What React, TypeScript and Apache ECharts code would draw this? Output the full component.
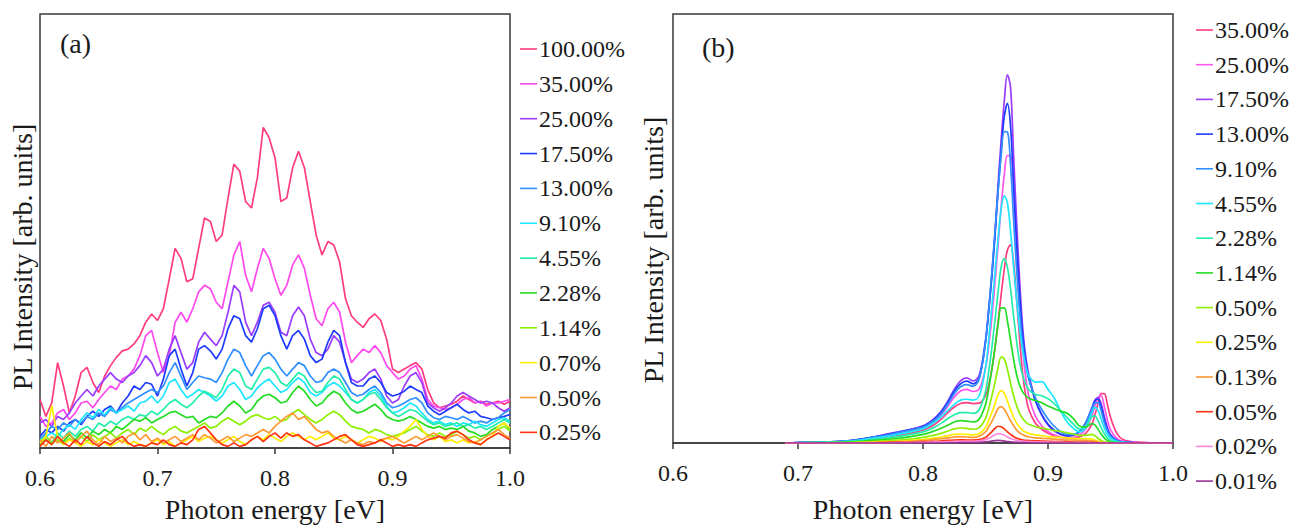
import React, { useEffect, useRef } from 'react';
import * as echarts from 'echarts';

// ---------- Panel (a) data ----------
const energyA = [
  0.6, 0.605, 0.61, 0.615, 0.62, 0.625, 0.63, 0.635, 0.64, 0.645,
  0.65, 0.655, 0.66, 0.665, 0.67, 0.675, 0.68, 0.685, 0.69, 0.695,
  0.7, 0.705, 0.71, 0.715, 0.72, 0.725, 0.73, 0.735, 0.74, 0.745,
  0.75, 0.755, 0.76, 0.765, 0.77, 0.775, 0.78, 0.785, 0.79, 0.795,
  0.8, 0.805, 0.81, 0.815, 0.82, 0.825, 0.83, 0.835, 0.84, 0.845,
  0.85, 0.855, 0.86, 0.865, 0.87, 0.875, 0.88, 0.885, 0.89, 0.895,
  0.9, 0.905, 0.91, 0.915, 0.92, 0.925, 0.93, 0.935, 0.94, 0.945,
  0.95, 0.955, 0.96, 0.965, 0.97, 0.975, 0.98, 0.985, 0.99, 0.995,
  1.0,
];
const labelsA = ['100.00%', '35.00%', '25.00%', '17.50%', '13.00%', '9.10%', '4.55%', '2.28%', '1.14%', '0.70%', '0.50%', '0.25%'];

const A_100 = [11.2,7.3,10.4,19.7,14.3,8.1,12.0,17.4,18.6,15.1, 12.8,16.6,19.0,20.9,22.4,22.8,24.0,25.9,29.0,30.9, 29.4,32.1,39.0,46.0,43.7,38.3,39.0,46.0,53.0,52.2, 47.6,49.1,57.6,65.4,63.8,56.8,55.3,62.3,73.9,71.5, 66.9,56.8,57.6,64.6,68.4,64.6,56.8,49.1,44.5,47.6, 46.8,42.9,34.4,30.5,29.0,27.8,29.8,30.9,29.4,25.1, 18.2,17.4,18.2,19.0,19.7,18.2,13.5,10.4,9.3,9.7, 10.1,10.8,12.0,11.2,10.4,10.8,10.1,10.4,10.8,10.1, 10.8];
const A_35 = [7.3,5.0,5.8,8.1,8.9,6.6,8.1,10.4,10.8,9.3, 11.2,12.8,14.3,13.5,15.9,16.6,18.2,21.3,25.9,27.1, 22.0,17.4,21.3,29.0,31.3,29.0,32.1,36.0,37.5,36.7, 33.6,32.1,38.3,44.5,47.6,39.8,36.0,41.4,46.0,43.7, 39.0,35.2,37.5,42.2,44.5,41.4,35.2,29.8,28.2,32.1, 33.6,31.3,24.4,19.7,21.3,22.8,22.0,23.6,22.0,19.0, 17.4,15.9,16.6,18.2,19.0,15.9,11.2,9.7,9.3,8.9, 9.3,10.1,11.2,11.6,10.4,10.8,9.7,10.4,10.4,10.8, 11.2];
const A_25 = [5.8,6.6,5.0,7.3,6.6,8.1,10.4,12.0,13.5,12.0, 14.3,15.9,17.4,15.9,15.1,16.6,17.4,19.0,21.3,19.7, 16.6,18.2,22.8,25.9,22.0,18.2,19.7,24.4,26.7,25.1, 23.6,25.9,31.3,37.5,36.0,29.0,25.9,29.0,32.9,33.6, 31.3,26.7,25.9,30.5,32.5,30.5,25.1,22.0,21.3,22.8, 25.9,24.4,19.7,15.9,15.1,15.9,17.4,18.2,15.9,12.0, 10.4,11.2,14.3,16.6,17.4,15.1,10.4,9.3,8.5,9.3, 10.4,12.0,12.8,12.0,11.2,10.4,10.8,10.4,9.3,8.5, 9.3];
const A_175 = [2.7,4.3,3.5,5.0,3.9,5.8,6.6,5.4,7.3,8.5, 7.3,8.9,9.7,8.1,10.4,12.0,14.3,13.5,15.1,14.7, 12.0,15.9,21.3,22.8,18.2,14.3,17.4,22.8,23.6,22.4, 20.5,22.8,27.5,30.5,29.8,25.9,24.4,27.5,32.1,32.9, 30.5,25.9,22.8,25.9,27.1,25.1,21.3,19.7,20.5,24.4, 27.1,25.9,19.7,15.1,14.3,14.3,15.9,16.6,15.1,12.8, 12.0,12.4,13.1,14.3,13.5,12.8,9.7,8.5,7.7,8.5, 9.3,10.1,8.9,8.1,8.5,7.3,7.0,6.6,7.0,7.3, 7.7];
const A_13 = [1.9,3.5,5.0,4.3,5.8,5.0,6.6,5.8,7.3,6.6, 8.1,7.3,8.9,8.1,9.3,10.4,11.2,12.0,12.8,13.5, 12.8,14.3,17.4,19.7,16.6,13.5,15.1,16.6,16.2,15.9, 15.1,17.4,20.5,22.8,22.0,19.0,16.6,19.0,21.3,22.0, 20.5,18.2,16.6,18.2,19.7,19.0,16.6,15.1,15.5,17.4, 18.2,17.4,15.1,12.8,12.0,12.4,13.5,14.3,12.8,10.4, 9.3,9.7,10.4,11.2,11.6,10.4,8.1,7.0,6.6,7.3, 7.0,6.6,7.3,6.6,5.8,6.2,5.8,6.6,7.0,8.1, 8.9];
const A_91 = [1.2,2.7,3.5,2.7,4.3,5.4,4.3,6.6,8.1,7.0, 8.9,7.7,9.3,8.1,8.9,9.7,8.5,10.4,10.8,12.0, 10.4,12.0,15.1,15.9,13.5,11.6,12.4,13.5,12.8,12.0, 10.8,12.0,14.3,15.1,13.5,11.2,12.0,13.9,15.1,15.9, 14.3,12.8,13.5,15.1,16.2,15.1,12.8,12.0,12.8,14.3, 15.1,14.3,12.8,11.2,10.4,11.2,12.8,13.5,12.0,9.7, 8.1,8.5,9.3,10.4,9.7,8.1,6.6,5.8,6.2,5.4, 5.8,5.0,5.8,5.4,6.2,5.4,5.0,5.8,6.6,7.0, 6.2];
const A_455 = [1.9,2.7,1.2,3.5,2.3,3.9,2.7,4.3,5.0,3.9, 5.8,5.0,6.2,5.4,6.6,7.3,6.6,7.7,7.3,8.5, 7.7,8.9,10.4,11.2,10.1,9.3,10.4,12.0,13.1,12.4, 11.6,13.5,16.6,18.2,17.4,14.3,13.5,15.9,18.2,18.6, 17.4,15.1,14.3,15.9,17.4,16.6,14.3,12.8,13.1,15.1, 16.6,15.9,13.5,11.2,10.4,11.2,12.4,12.8,11.2,9.3, 8.1,7.3,8.1,8.9,8.5,7.3,6.2,5.4,5.8,5.0, 5.4,5.8,5.0,5.4,4.6,5.0,4.3,5.0,5.8,6.6, 5.8];
const A_228 = [1.2,1.9,0.8,2.7,1.5,3.1,1.9,3.5,2.3,3.9, 3.1,4.3,3.5,5.0,4.3,5.4,6.6,6.2,7.0,5.8, 6.6,7.3,8.1,8.5,7.7,7.0,7.3,5.8,6.6,7.3, 7.0,8.1,9.7,10.8,9.7,8.1,8.9,10.8,12.0,12.4, 11.6,10.4,10.8,12.8,14.3,13.1,11.2,9.7,10.4,12.0, 13.1,12.4,10.4,8.9,8.1,8.5,9.3,10.1,8.9,7.3, 6.6,6.2,6.6,7.3,6.6,5.8,5.0,4.6,5.0,4.3, 4.6,4.3,5.0,3.9,3.5,2.7,3.1,4.3,5.0,5.8, 4.3];
const A_114 = [0.4,2.7,1.2,1.9,0.8,2.3,1.2,2.7,1.5,3.1, 1.9,2.7,3.5,2.3,3.5,4.3,3.1,4.6,3.9,5.0, 3.9,3.1,4.3,5.0,3.9,3.5,4.3,5.0,5.8,4.6, 5.0,6.2,7.0,6.2,5.4,6.2,7.3,7.7,7.0,6.6, 7.3,6.2,6.6,8.1,8.9,7.7,6.6,5.8,6.6,7.7, 8.5,7.7,6.2,5.0,4.6,4.3,3.5,4.3,3.9,3.1, 2.7,3.1,3.5,4.3,5.0,3.9,3.1,2.7,3.5,2.7, 3.1,3.9,3.1,2.3,2.7,1.9,2.7,3.5,4.3,5.0, 3.9];
const A_070 = [1.2,2.7,9.7,2.7,0.8,1.9,1.2,0.4,1.5,0.8, 1.9,1.2,0.4,1.2,1.9,0.8,1.5,0.8,0.4,1.2, 1.9,0.8,1.5,0.4,1.2,1.9,2.7,1.5,2.3,2.7, 1.9,1.2,1.9,2.7,1.5,0.8,1.9,2.7,1.9,3.1, 2.3,1.5,2.7,3.5,2.7,1.9,2.7,1.9,2.7,3.5, 2.3,1.9,2.7,1.9,1.2,1.9,2.7,2.3,1.5,2.3, 1.9,2.7,3.9,5.0,6.6,4.3,2.7,1.9,2.7,1.5, 1.9,1.2,1.9,1.2,1.5,0.8,1.9,2.7,5.0,5.8, 4.6];
const A_050 = [1.9,0.4,2.7,1.2,2.3,3.5,1.2,2.7,3.9,1.9, 0.8,2.7,1.5,2.3,1.2,2.7,3.5,1.9,3.1,1.5, 2.3,1.2,1.9,2.7,1.5,2.3,3.1,1.9,3.1,2.3, 1.2,1.9,2.7,1.5,2.3,3.1,2.7,3.5,4.3,3.5, 5.0,6.2,7.3,8.1,6.6,7.3,5.8,4.3,3.5,3.9, 2.7,1.9,1.2,1.9,1.2,0.8,1.5,1.2,1.9,2.3, 2.7,1.9,1.2,1.9,2.7,1.9,2.7,3.5,2.7,1.9, 2.7,3.1,2.3,1.5,1.2,1.9,2.7,3.5,4.3,3.1, 2.3];
const A_025 = [0.4,1.9,0.8,2.7,1.2,0.4,1.9,0.8,2.7,1.2, 0.4,1.5,0.8,1.9,2.7,1.2,0.4,0.8,0.4,1.2, 0.8,1.9,0.8,0.4,1.2,0.8,1.9,4.3,5.0,3.5, 1.9,0.8,0.4,1.2,0.4,0.8,1.9,2.7,1.5,2.7, 3.5,2.3,3.5,2.7,3.1,1.9,1.2,0.4,0.8,1.2, 1.9,2.7,3.1,1.9,0.8,0.4,0.8,1.2,1.9,1.2, 0.4,0.8,0.4,0.8,0.4,1.2,1.9,2.3,2.7,2.3, 3.5,3.9,3.1,1.9,1.2,0.8,1.9,2.7,3.5,2.7, 1.9];
const valuesA = [A_100, A_35, A_25, A_175, A_13, A_91, A_455, A_228, A_114, A_070, A_050, A_025];

// ---------- Panel (b) data ----------
const energyB = [
  0.69, 0.7, 0.72, 0.74, 0.75, 0.76, 0.77, 0.78, 0.79, 0.8,
  0.805, 0.81, 0.815, 0.82, 0.825, 0.83, 0.835, 0.84, 0.845, 0.85,
  0.8525, 0.855, 0.8575, 0.86, 0.8625, 0.865, 0.8675, 0.87, 0.8725, 0.875,
  0.8775, 0.88, 0.8825, 0.885, 0.89, 0.895, 0.9, 0.905, 0.91, 0.915,
  0.92, 0.925, 0.93, 0.935, 0.9375, 0.94, 0.9425, 0.945, 0.9475, 0.95,
  0.955, 0.96, 0.97, 1.0,
];
const labelsB = ['35.00%', '25.00%', '17.50%', '13.00%', '9.10%', '4.55%', '2.28%', '1.14%', '0.50%', '0.25%', '0.13%', '0.05%', '0.02%', '0.01%'];

const B_3500 = [0,0.1,0.2,0.3,0.6, 0.9,1.3,1.8,2.3,3.0, 3.6,4.5,5.7,7.1,8.4, 9.2,9.4,9.2,9.3,11, 13.5,17,22,28,34.5, 40.5,45,46.2,42,33, 23.5,15.5,10.5,7.5,4.6, 3.2,2.3,1.7,1.3,1.1, 1.1,1.4,2.2,4.3,6.5, 9.2,11.5,11.5,9.0,6.0, 2.3,0.8,0.2,0];
const B_2500 = [0,0.1,0.2,0.4,0.8, 1.2,1.7,2.3,2.9,3.6, 4.3,5.3,6.7,8.6,10.7, 12.1,12.5,12.0,12.6,17.5, 22.5,29,37,46,55, 62.5,67,67,58,44, 31,21,14.5,10.5,6.2, 4.0,2.7,1.9,1.4,1.2, 1.3,1.8,3.2,6.2,8.6, 10.6,11.0,8.6,5.4,3.1, 1.1,0.4,0.1,0];
const B_1750 = [0,0.1,0.2,0.5,0.9, 1.4,2.0,2.6,3.2,4.0, 4.8,6.0,7.6,9.8,12.5, 14.5,15.2,14.5,15.8,24, 31,39,48.5,60,70.5, 79.6,85.8,83,67,51, 37,26,19.5,15.5,10, 6.5,4.2,2.8,2.0,1.6, 1.8,2.5,4.5,8.0,10.0, 10.6,9.2,6.2,3.6,2.0, 0.7,0.3,0.1,0];
const B_1300 = [0,0.1,0.2,0.5,0.9, 1.4,1.9,2.5,3.1,3.9, 4.7,5.8,7.4,9.6,12.1, 13.8,14.4,13.8,15.2,23.5, 30.5,38.5,48,58.5,68, 76,79.2,74,60,46, 34,24.5,18.5,14.8,9.8, 6.6,4.4,3.0,2.1,1.7, 1.9,2.6,4.6,8.0,9.8, 10.2,8.6,5.6,3.2,1.8, 0.6,0.2,0.05,0];
const B_910 = [0,0.1,0.2,0.5,0.8, 1.3,1.8,2.4,3.0,3.7, 4.5,5.5,7.0,9.1,11.5, 13.1,13.6,13.2,15.0,23.5, 31,39.5,49,58.5,67, 72.6,72.5,65,52,40, 30,22.5,17.5,14.5,10.5, 7.8,5.6,3.9,2.7,2.0, 2.0,2.7,4.6,7.8,9.3, 9.4,7.5,4.8,2.8,1.6, 0.5,0.2,0.05,0];
const B_455 = [0,0.1,0.2,0.4,0.7, 1.1,1.5,2.0,2.6,3.3, 4.0,5.0,6.2,7.6,9.0, 10.0,10.2,10.0,11.0,17.5, 24,31.5,39.5,47.5,54.5, 57.6,56,49.5,41,33, 26,21,17.5,15.5,14.2, 14.3,12.5,10.5,7.5,5.0, 3.5,2.6,3.5,7.0,8.3, 7.6,5.6,3.5,2.0,1.1, 0.4,0.15,0,0];
const B_228 = [0,0.05,0.1,0.3,0.5, 0.8,1.1,1.5,2.0,2.6, 3.1,3.8,4.7,5.7,6.6, 7.1,7.1,6.9,7.8,12, 16.5,22,28.5,35,41, 43,41,36,29.5,23.5, 18.5,15.5,13.5,12.3,11.3, 11.0,10.3,9.2,7.6,6.0, 4.5,3.3,3.8,6.1,6.3, 5.2,3.6,2.2,1.2,0.6, 0.2,0.1,0,0];
const B_114 = [0,0.05,0.1,0.2,0.4, 0.6,0.8,1.1,1.5,2.0, 2.4,2.9,3.5,4.2,4.9, 5.2,5.1,4.9,5.6,9, 12.5,17,22,27.5,31.5, 31.5,28.5,24,19.5,15.8, 13.3,11.8,10.9,10.4,9.9, 9.4,8.6,8.0,7.4,7.0, 5.8,4.0,3.7,4.5,4.2, 3.2,2.1,1.2,0.6,0.3, 0.1,0,0,0];
const B_050 = [0,0,0.05,0.1,0.2, 0.3,0.5,0.7,0.9,1.3, 1.6,1.9,2.3,2.8,3.3, 3.5,3.4,3.2,3.6,5.7, 8,10.8,14,17.5,20, 19.6,17.2,14,11,8.6, 6.8,5.6,4.8,4.3,3.8, 3.5,3.2,2.9,2.7,2.4, 2.1,1.8,1.8,2.0,1.7, 1.1,0.6,0.3,0.15,0.1, 0,0,0,0];
const B_025 = [0,0,0,0.05,0.1, 0.2,0.3,0.4,0.6,0.8, 1.0,1.2,1.4,1.7,2.0, 2.1,2.0,1.9,2.2,3.6, 5.2,7.0,9.0,11.2,12.2, 11.6,9.8,7.8,6.0,4.6, 3.6,2.9,2.5,2.2,1.9, 1.7,1.5,1.4,1.3,1.2, 1.1,1.0,1.0,0.9,0.7, 0.4,0.2,0.1,0.05,0, 0,0,0,0];
const B_013 = [0,0,0,0,0.05, 0.1,0.2,0.3,0.4,0.6, 0.7,0.9,1.0,1.2,1.4, 1.5,1.4,1.3,1.6,2.6, 3.7,5.0,6.5,8.0,8.5, 7.9,6.6,5.2,4.0,3.0, 2.3,1.9,1.6,1.4,1.2, 1.1,1.0,0.9,0.8,0.7, 0.7,0.6,0.6,0.5,0.4, 0.2,0.1,0.05,0,0, 0,0,0,0];
const B_005 = [0,0,0,0,0, 0.05,0.1,0.15,0.2,0.3, 0.35,0.4,0.5,0.6,0.7, 0.75,0.7,0.7,0.8,1.3, 1.9,2.6,3.4,3.9,3.8, 3.3,2.6,2.0,1.5,1.1, 0.9,0.7,0.6,0.55,0.5, 0.45,0.4,0.35,0.3,0.3, 0.25,0.2,0.2,0.15,0.1, 0.05,0,0,0,0, 0,0,0,0];
const B_002 = [0,0,0,0,0, 0,0,0.05,0.1,0.15, 0.2,0.2,0.25,0.3,0.35, 0.4,0.4,0.4,0.5,0.8, 1.1,1.5,1.9,2.2,2.1, 1.8,1.4,1.1,0.8,0.6, 0.5,0.4,0.35,0.3,0.25, 0.2,0.2,0.15,0.15,0.1, 0.1,0.1,0.05,0,0, 0,0,0,0,0, 0,0,0,0];
const B_001 = [0,0,0,0,0, 0,0,0,0,0, 0,0,0,0,0, 0.1,0.1,0.1,0.15,0.25, 0.35,0.45,0.55,0.6,0.55, 0.45,0.35,0.25,0.2,0.15, 0.1,0.1,0.05,0,0, 0,0,0,0,0, 0,0,0,0,0, 0,0,0,0,0, 0,0,0,0];
const valuesB = [B_3500, B_2500, B_1750, B_1300, B_910, B_455, B_228, B_114, B_050, B_025, B_013, B_005, B_002, B_001];

// ---------- styles ----------
const colorsA = ['#ff3c82', '#ff48ee', '#9b3cff', '#1e3cff', '#2f8fff', '#1ee6ff', '#22eeaa', '#22dd22', '#8cf000', '#ffee00', '#ff9933', '#ff3311'];
const colorsB = ['#ff3c82', '#ff55ee', '#9b3cff', '#1e3cff', '#2f8fff', '#1ee6ff', '#22eeaa', '#22dd22', '#8cf000', '#ffee00', '#ff9933', '#ff3311', '#ff88dd', '#993399'];
const FONT = 'Liberation Serif, Times New Roman, serif';
const INK = '#1a1a1a';
const FRAME = '#3a3a3a';

function textStyle(text: string, size: number, align: string) {
  return {
    text, fontFamily: FONT, fontSize: size, fill: INK,
    align, verticalAlign: 'middle', textAlign: align, textVerticalAlign: 'middle',
  };
}

function legendEls(labels: string[], colors: string[], x0: number, y0: number, step: number) {
  const els: any[] = [];
  labels.forEach((lab, i) => {
    const y = y0 + i * step;
    els.push({ type: 'line', silent: true, shape: { x1: x0, y1: y, x2: x0 + 17, y2: y }, style: { stroke: colors[i], lineWidth: 1.6 } });
    els.push({ type: 'text', silent: true, x: x0 + 19, y, style: textStyle(lab, 24, 'left') });
  });
  return els;
}

function xAxisCfg(gridIndex: number, nameGap: number) {
  return {
    type: 'value', gridIndex, min: 0.6, max: 1.0, interval: 0.1,
    name: 'Photon energy [eV]', nameLocation: 'middle', nameGap,
    nameTextStyle: { fontFamily: FONT, fontSize: 28, color: INK },
    axisLine: { show: true, lineStyle: { color: FRAME, width: 1.5 } },
    axisTick: { show: true, inside: false, length: 6, lineStyle: { color: FRAME, width: 1.5 } },
    axisLabel: { margin: 18, fontFamily: FONT, fontSize: 24, color: INK, formatter: (v: number) => v.toFixed(1) },
    splitLine: { show: false },
  };
}

function buildOption() {
  const series: any[] = [];
  valuesA.forEach((vals, i) => {
    series.push({
      type: 'line', name: 'a ' + labelsA[i], xAxisIndex: 0, yAxisIndex: 0,
      data: energyA.map((x, k) => [x, vals[k]]),
      showSymbol: false, symbol: 'none', lineStyle: { color: colorsA[i], width: 1.7 }, itemStyle: { color: colorsA[i] },
      clip: true,
    });
  });
  valuesB.forEach((vals, i) => {
    series.push({
      type: 'line', name: 'b ' + labelsB[i], xAxisIndex: 1, yAxisIndex: 1,
      data: energyB.map((x, k) => [x, vals[k]]),
      showSymbol: false, symbol: 'none', smooth: 0.35,
      lineStyle: { color: colorsB[i], width: 1.7 }, itemStyle: { color: colorsB[i] },
      clip: true,
    });
  });
  return {
    animation: false,
    backgroundColor: '#ffffff',
    textStyle: { fontFamily: FONT },
    grid: [
      { left: 40, top: 14, width: 470, height: 435, show: true, borderColor: FRAME, borderWidth: 1.5, backgroundColor: 'transparent' },
      { left: 673, top: 14, width: 500, height: 435, show: true, borderColor: FRAME, borderWidth: 1.5, backgroundColor: 'transparent' },
    ],
    xAxis: [xAxisCfg(0, 44), xAxisCfg(1, 52)],
    yAxis: [
      { type: 'value', gridIndex: 0, min: 0, max: 100, show: false },
      { type: 'value', gridIndex: 1, min: 0, max: 100, show: false },
    ],
    series,
    graphic: [
      ...legendEls(labelsA, colorsA, 520, 49, 34.85),
      ...legendEls(labelsB, colorsB, 1196, 30, 34.7),
      { type: 'text', silent: true, x: 60, y: 43, style: textStyle('(a)', 28, 'left') },
      { type: 'text', silent: true, x: 702, y: 47, style: textStyle('(b)', 28, 'left') },
      { type: 'text', silent: true, x: 22, y: 257, rotation: Math.PI / 2, style: textStyle('PL Intensity [arb. units]', 28, 'center') },
      { type: 'text', silent: true, x: 653, y: 250, rotation: Math.PI / 2, style: textStyle('PL Intensity [arb. units]', 28, 'center') },
    ],
  };
}

export default function App() {
  const ref = useRef<HTMLDivElement>(null);
  useEffect(() => {
    if (!ref.current) return;
    const chart = echarts.init(ref.current, null, { renderer: 'svg' });
    chart.setOption(buildOption() as any);
    return () => chart.dispose();
  }, []);
  return <div ref={ref} style={{ position: 'absolute', left: 0, top: 0, width: 1294, height: 528, background: '#fff' }} />;
}
